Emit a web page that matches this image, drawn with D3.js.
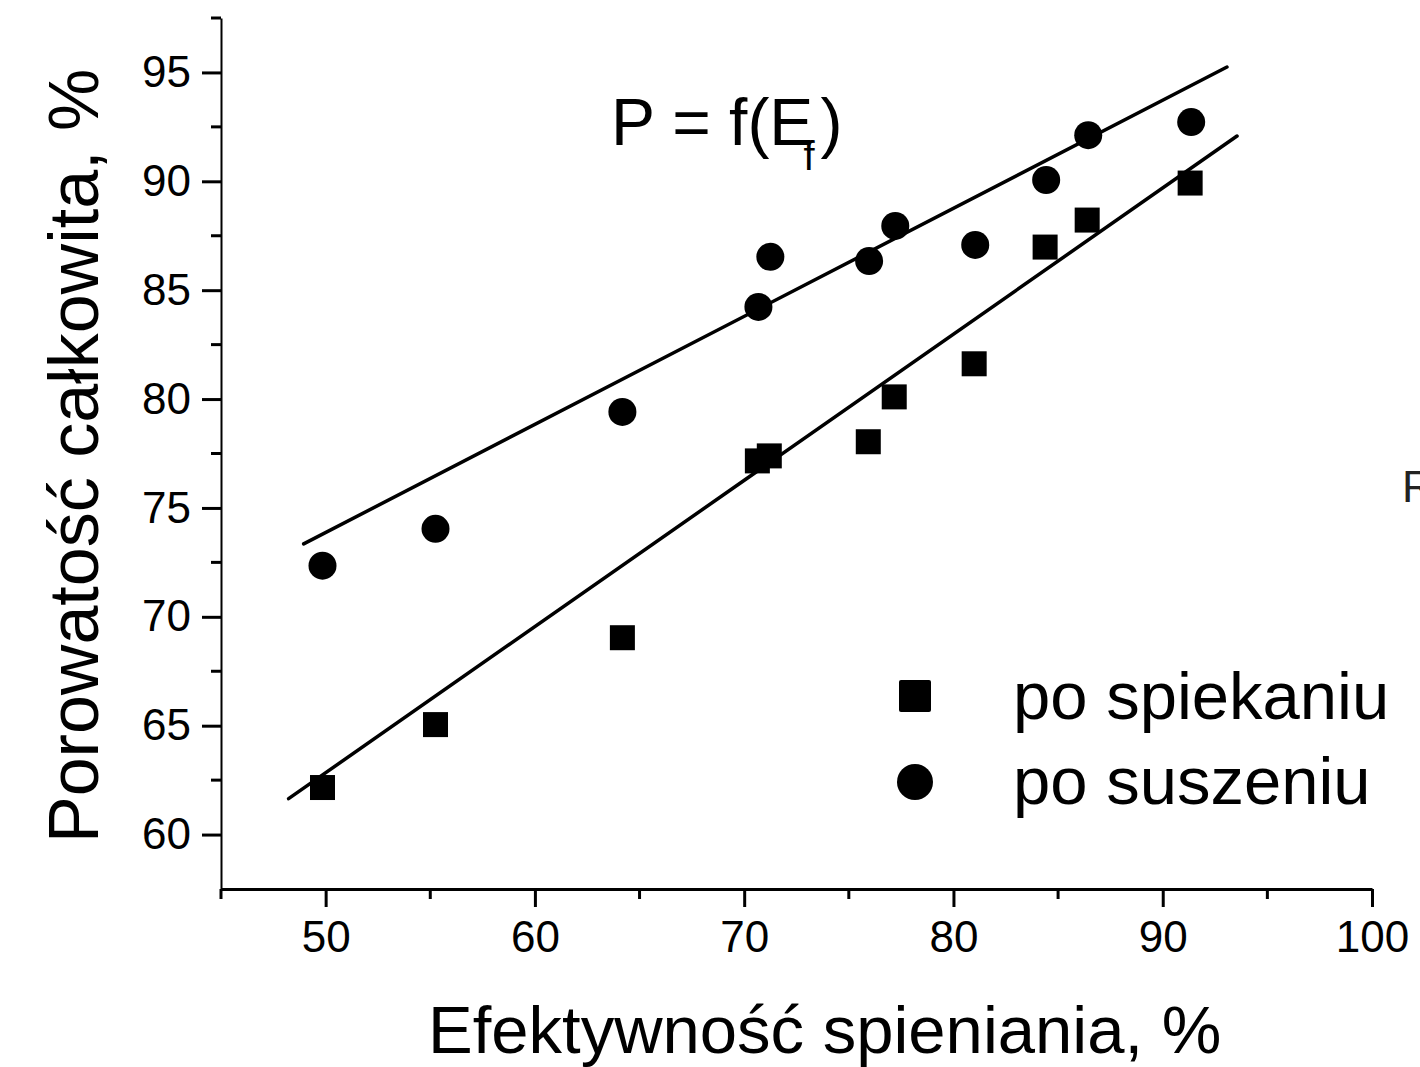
<!DOCTYPE html>
<html>
  <head>
    <script src="https://d3js.org/d3.v7.min.js"></script>
    <style>
    body { margin: 0; background: #fff; }
    svg text { font-family: "Liberation Sans", Arial, sans-serif; fill: #000; }
    .axis path, .axis line { stroke: #000; }
    </style>
  </head>
  <body>
    <script>

    // data: Ef (%) vs total porosity (%)
    var efektywnosc = [49.85, 55.25, 64.18, 70.63, 71.2, 75.93, 77.17, 80.99, 84.38, 86.39, 91.31];
    var poSpiekaniu = [62.16, 65.05, 69.04, 77.16, 77.39, 78.04, 80.1, 81.62, 86.98, 88.22, 89.92];
    var efSuszenie  = [49.85, 55.25, 64.18, 70.68, 71.25, 75.97, 77.22, 81.04, 84.43, 86.44, 91.36];
    var poSuszeniu  = [72.35, 74.04, 79.41, 84.23, 86.53, 86.34, 87.95, 87.08, 90.06, 92.12, 92.72];

    // fitted lines (endpoints)
    var fitSpiekanie = [[48.23, 61.65], [93.55, 92.08]];
    var fitSuszenie  = [[48.95, 73.35], [93.07, 95.25]];

    var xTicks = [50, 60, 70, 80, 90, 100];
    var xMinor = [45, 55, 65, 75, 85, 95];
    var yTicks = [60, 65, 70, 75, 80, 85, 90, 95];
    var yMinor = [62.5, 67.5, 72.5, 77.5, 82.5, 87.5, 92.5, 97.5];

    var w = 1420, h = 1067;
    var mLeft = 221, mRight = 1372, mTop = 18, mBottom = 889;

    var svg = d3.select("body").append("svg")
      .attr("width", w)
      .attr("height", h);

    var x = d3.scaleLinear().domain([45, 100]).range([mLeft, mRight]);
    var y = d3.scaleLinear().domain([57.5, 97.5]).range([mBottom, mTop]);

    // x axis
    var gx = svg.append("g")
      .attr("class", "axis")
      .attr("transform", "translate(0," + mBottom + ")")
      .call(d3.axisBottom(x).tickValues(xTicks).tickSize(18).tickSizeOuter(0).tickPadding(14));
    gx.select(".domain").attr("stroke-width", 3);
    gx.selectAll(".tick line").attr("stroke-width", 3);
    gx.selectAll(".tick text").attr("font-size", 44);
    gx.selectAll(".minor").data(xMinor).enter().append("line")
      .attr("class", "minor")
      .attr("x1", function(d) { return x(d); })
      .attr("x2", function(d) { return x(d); })
      .attr("y1", 0).attr("y2", 10)
      .attr("stroke", "#000").attr("stroke-width", 3);

    // y axis
    var gy = svg.append("g")
      .attr("class", "axis")
      .attr("transform", "translate(" + mLeft + ",0)")
      .call(d3.axisLeft(y).tickValues(yTicks).tickSize(19).tickSizeOuter(0).tickPadding(11));
    gy.select(".domain").attr("stroke-width", 2);
    gy.selectAll(".tick line").attr("stroke-width", 3);
    gy.selectAll(".tick text").attr("font-size", 44);
    gy.selectAll(".minor").data(yMinor).enter().append("line")
      .attr("class", "minor")
      .attr("y1", function(d) { return y(d); })
      .attr("y2", function(d) { return y(d); })
      .attr("x1", 0).attr("x2", -10)
      .attr("stroke", "#000").attr("stroke-width", 3);

    // axis titles
    svg.append("text")
      .attr("x", 428).attr("y", 1053)
      .attr("font-size", 67)
      .text("Efektywność spieniania, %");

    svg.append("text")
      .attr("transform", "translate(98,843) rotate(-90)")
      .attr("font-size", 70)
      .text("Porowatość całkowita, %");

    // fit lines
    var line = d3.line()
      .x(function(d) { return x(d[0]); })
      .y(function(d) { return y(d[1]); });

    [fitSpiekanie, fitSuszenie].forEach(function(f) {
      svg.append("path")
        .attr("d", line(f))
        .attr("fill", "none")
        .attr("stroke", "#000")
        .attr("stroke-width", 3.5)
        .attr("stroke-linecap", "round");
    });

    // squares - po spiekaniu
    svg.append("g").selectAll("rect")
      .data(efektywnosc.map(function(e, i) { return [e, poSpiekaniu[i]]; }))
      .enter().append("rect")
      .attr("x", function(d) { return x(d[0]) - 12.5; })
      .attr("y", function(d) { return y(d[1]) - 12.5; })
      .attr("width", 25).attr("height", 25)
      .attr("fill", "#000");

    // circles - po suszeniu
    svg.append("g").selectAll("circle")
      .data(efSuszenie.map(function(e, i) { return [e, poSuszeniu[i]]; }))
      .enter().append("circle")
      .attr("cx", function(d) { return x(d[0]); })
      .attr("cy", function(d) { return y(d[1]); })
      .attr("r", 14)
      .attr("fill", "#000");

    // title P = f(Ef)
    var t = svg.append("text")
      .attr("x", 611).attr("y", 145)
      .attr("font-size", 66);
    t.append("tspan").text("P = f(E");
    t.append("tspan").attr("font-size", 40).attr("dx", -10).attr("dy", 25).text("f");
    t.append("tspan").attr("dx", 6).attr("dy", -25).text(")");

    // legend
    svg.append("rect")
      .attr("x", 899).attr("y", 680)
      .attr("width", 32).attr("height", 32)
      .attr("rx", 2)
      .attr("fill", "#000");
    svg.append("circle")
      .attr("cx", 915).attr("cy", 782)
      .attr("r", 18)
      .attr("fill", "#000");
    svg.append("text")
      .attr("x", 1013).attr("y", 719)
      .attr("font-size", 67)
      .text("po spiekaniu");
    svg.append("text")
      .attr("x", 1013).attr("y", 804)
      .attr("font-size", 67)
      .text("po suszeniu");

    // clipped text at the right edge
    svg.append("text")
      .attr("x", 1402).attr("y", 502)
      .attr("font-size", 44)
      .style("fill", "#222")
      .text("R");

    </script>
  </body>
</html>
